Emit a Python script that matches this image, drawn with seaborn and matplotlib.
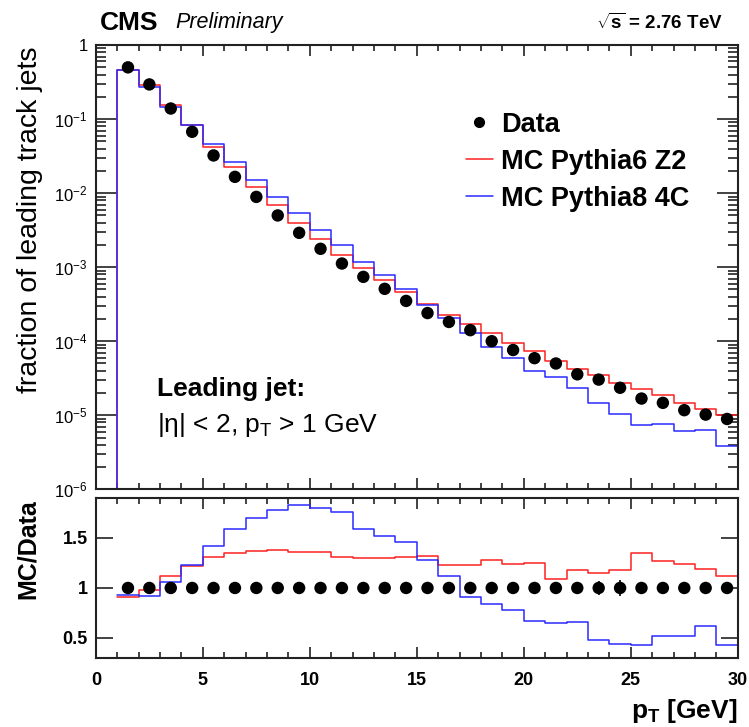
import matplotlib
matplotlib.use("Agg")
import matplotlib.pyplot as plt
import seaborn as sns
import numpy as np
from matplotlib.lines import Line2D
from matplotlib.ticker import FixedLocator, FuncFormatter, LogLocator, MultipleLocator, NullFormatter

# bin edges in pT [GeV]; first bin (0-1) is empty
edges = np.arange(0, 31)
centers = edges[1:-1] + 0.5

# fraction of leading track jets, data (bins 1-2 ... 29-30)
data = [0.50, 0.294, 0.139, 0.0674, 0.0323, 0.0166, 0.0089, 0.0050, 0.00291,
        0.00177, 0.00112, 0.00074, 0.00051, 0.00035, 0.00024, 0.000182,
        0.000141, 0.000100, 7.6e-5, 5.9e-5, 5.0e-5, 3.57e-5, 3.03e-5, 2.35e-5,
        1.68e-5, 1.47e-5, 1.17e-5, 1.02e-5, 8.9e-6]
# relative stat. errors of data
data_relerr = [0, 0, 0, 0, 0, 0, 0, 0, 0, 0, 0, 0, 0, 0, 0, 0, 0, 0, 0, 0,
               0.04, 0.06, 0.07, 0.08, 0.04, 0.03, 0.03, 0.03, 0.03]

# MC / Data ratios
ratio_p6 = [0.91, 0.983, 1.117, 1.223, 1.307, 1.35, 1.37, 1.377, 1.363, 1.357,
            1.31, 1.30, 1.30, 1.307, 1.317, 1.23, 1.23, 1.277, 1.243, 1.25,
            1.09, 1.177, 1.15, 1.177, 1.35, 1.267, 1.243, 1.193, 1.117]
ratio_p8 = [0.93, 0.917, 1.057, 1.23, 1.417, 1.59, 1.70, 1.783, 1.833, 1.80,
            1.763, 1.59, 1.523, 1.46, 1.283, 1.123, 0.907, 0.84, 0.783, 0.673,
            0.65, 0.657, 0.483, 0.443, 0.433, 0.523, 0.517, 0.617, 0.433]

data = np.array(data)
mc_p6 = data * np.array(ratio_p6)
mc_p8 = data * np.array(ratio_p8)

RED = "#ff2020"
BLUE = "#2a2aff"
YMIN, YMAX = 1e-6, 1.0

sns.set_theme(style="ticks")
plt.rcParams["font.family"] = ["Liberation Sans", "DejaVu Sans"]
plt.rcParams["mathtext.fontset"] = "custom"
plt.rcParams["mathtext.rm"] = "Liberation Sans"
plt.rcParams["mathtext.it"] = "Liberation Sans:italic"
plt.rcParams["mathtext.bf"] = "Liberation Sans:bold"
for k in ["text.color", "axes.labelcolor", "xtick.color", "ytick.color"]:
    plt.rcParams[k] = "black"

fig = plt.figure(figsize=(7.49, 7.27), dpi=100)
ax = fig.add_axes([0.128, 0.327, 0.857, 0.611])
axr = fig.add_axes([0.128, 0.095, 0.857, 0.220])


def step(axis, vals, color, x0=0):
    x = edges[x0:]
    y = np.append(vals, vals[-1])
    sns.lineplot(x=x, y=y, ax=axis, color=color, lw=1.1, drawstyle="steps-post",
                 estimator=None, sort=False)


# main panel
for mc, col in [(mc_p6, RED), (mc_p8, BLUE)]:
    vals = np.clip(np.concatenate([[0.0], mc]), YMIN, None)
    step(ax, vals, col)
ax.errorbar(centers, data, yerr=data * np.array(data_relerr), fmt="none",
            ecolor="black", elinewidth=1.2)
sns.scatterplot(x=centers, y=data, ax=ax, color="black", s=80, edgecolor="none",
                zorder=5)

ax.set_yscale("log")
ax.set_xlim(0, 30)
ax.set_ylim(YMIN, YMAX)
ax.yaxis.set_major_locator(LogLocator(base=10, numticks=10))
ax.yaxis.set_minor_locator(LogLocator(base=10, subs=np.arange(2, 10), numticks=20))
ax.yaxis.set_minor_formatter(NullFormatter())
ax.yaxis.set_major_formatter(FuncFormatter(
    lambda v, p: "1" if abs(v - 1) < 1e-9 else r"$10^{%d}$" % round(np.log10(v))))
ax.xaxis.set_major_locator(MultipleLocator(5))
ax.xaxis.set_minor_locator(MultipleLocator(1))
ax.set_xticklabels([])
ax.set_xlabel("")
ax.set_ylabel("fraction of leading track jets", fontsize=20.5)
ax.yaxis.set_label_coords(-0.083, 0.606)

handles = [
    Line2D([], [], marker="o", color="black", ls="none", markersize=7),
    Line2D([], [], color=RED, lw=1.1),
    Line2D([], [], color=BLUE, lw=1.1),
]
ax.legend(handles, ["Data", "MC Pythia6 Z2", "MC Pythia8 4C"], frameon=False,
          loc="upper left", bbox_to_anchor=(0.555, 0.88), borderpad=0,
          handlelength=1.0, handletextpad=0.3, labelspacing=0.4,
          prop={"weight": "bold", "size": 19.5})

ax.text(0.095, 0.225, "Leading jet:", transform=ax.transAxes, fontsize=19,
        fontweight="bold", va="center")
ax.text(0.095, 0.145, r"|η| < 2, p$_\mathrm{T}$ > 1 GeV", transform=ax.transAxes,
        fontsize=19, va="center")

fig.text(0.133, 0.969, "CMS", fontsize=19, fontweight="bold", va="center")
fig.text(0.234, 0.969, "Preliminary", fontsize=15.5, fontstyle="italic", va="center")
fig.text(0.965, 0.968, r"$\sqrt{\mathbf{s}}$ = 2.76 TeV", fontsize=13.5,
         fontweight="bold", va="center", ha="right")

# ratio panel
step(axr, np.array(ratio_p6), RED, x0=1)
step(axr, np.array(ratio_p8), BLUE, x0=1)
axr.errorbar(centers, np.ones(len(centers)), yerr=data_relerr, fmt="none",
             ecolor="black", elinewidth=1.2)
sns.scatterplot(x=centers, y=np.ones(len(centers)), ax=axr, color="black", s=80,
                edgecolor="none", zorder=5)
axr.set_xlim(0, 30)
axr.set_ylim(0.3, 1.9)
axr.yaxis.set_major_locator(FixedLocator([0.5, 1.0, 1.5]))
axr.yaxis.set_major_formatter(FuncFormatter(lambda v, p: ("%g" % v)))
axr.xaxis.set_major_locator(MultipleLocator(5))
axr.xaxis.set_minor_locator(MultipleLocator(1))
axr.set_ylabel("MC/Data", fontsize=18, fontweight="bold")
axr.yaxis.set_label_coords(-0.087, 0.68)
axr.set_xlabel(r"p$_\mathbf{T}$ [GeV]", fontsize=19, fontweight="bold")
axr.xaxis.set_label_coords(1.0, -0.245)
axr.xaxis.label.set_ha("right")
for lab in axr.get_xticklabels() + axr.get_yticklabels():
    lab.set_fontweight("bold")

# ROOT-like frame and inward ticks
for a in (ax, axr):
    for s in a.spines.values():
        s.set_linewidth(1.5)
        s.set_color("#222222")
    a.tick_params(which="both", direction="in", top=True, right=True,
                  color="#222222", width=1.2)
    a.tick_params(which="major", length=8, labelsize=13, pad=6)
    a.tick_params(which="minor", length=4)
ax.tick_params(axis="y", which="major", length=15, labelsize=12)
ax.tick_params(axis="y", which="minor", length=7)
axr.tick_params(axis="y", which="major", length=12)
axr.tick_params(axis="x", which="major", pad=10)

fig.savefig("out.png", dpi=100)
